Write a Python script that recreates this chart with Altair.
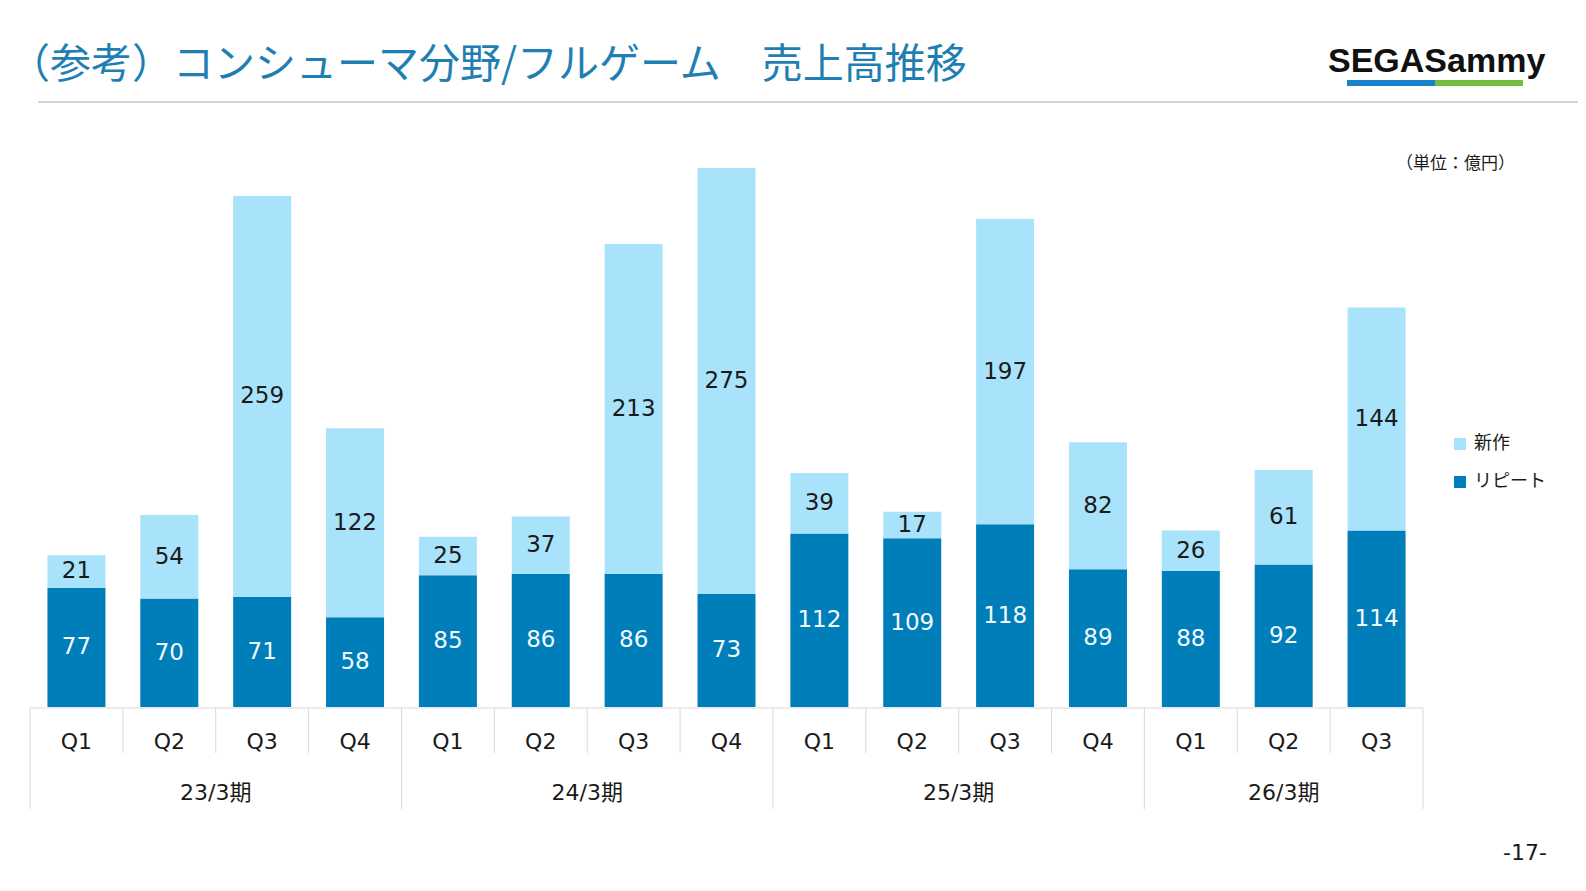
import altair as alt
import pandas as pd

# ---- data ----
quarters = ["Q1", "Q2", "Q3", "Q4", "Q1", "Q2", "Q3", "Q4",
            "Q1", "Q2", "Q3", "Q4", "Q1", "Q2", "Q3"]
years = ["23/3期"] * 4 + ["24/3期"] * 4 + ["25/3期"] * 4 + ["26/3期"] * 3
repeat_sales = [77, 70, 71, 58, 85, 86, 86, 73, 112, 109, 118, 89, 88, 92, 114]
new_sales = [21, 54, 259, 122, 25, 37, 213, 275, 39, 17, 197, 82, 26, 61, 144]
series_names = ["新作", "リピート"]

title_text = "（参考）コンシューマ分野/フルゲーム　売上高推移"
unit_text = "（単位：億円）"
page_text = "-17-"
logo_text = "SEGASammy"

LIGHT = "#A8E3FB"
DARK = "#007EBA"
TITLE_BLUE = "#1F7FB3"
GRID = "#D9D9D9"
NUMFONT = "DejaVu Sans"
JPFONT = "Noto Sans CJK JP"

df = pd.DataFrame({
    "idx": list(range(len(quarters))),
    "quarter": quarters,
    "year": years,
    "repeat": repeat_sales,
    "new": new_sales,
})

# category boundaries (separator lines of the two-level axis)
bounds = []
for i in range(len(quarters) + 1):
    is_long = i == 0 or i == len(quarters) or years[i] != years[i - 1]
    bounds.append({"pos": i - 0.5, "long": is_long})
bdf = pd.DataFrame(bounds)

xs = alt.Scale(domain=[-0.5, len(quarters) - 0.5], range=[22, 1415],
               nice=False, zero=False, padding=0)
ys = alt.Scale(domain=[0, 348], range=[699, 160], nice=False, zero=False)

bars = alt.Chart(df).transform_fold(
    ["repeat", "new"], as_=["key", "value"]
).transform_calculate(
    series="datum.key === 'repeat' ? 'リピート' : '新作'",
    ord="datum.key === 'repeat' ? 0 : 1",
).mark_bar(size=58).encode(
    x=alt.X("idx:Q", scale=xs, axis=None),
    y=alt.Y("value:Q", stack="zero", scale=ys, axis=None),
    color=alt.Color(
        "series:N",
        scale=alt.Scale(domain=series_names, range=[LIGHT, DARK]),
        legend=alt.Legend(
            title=None, orient="none", legendX=1443, legendY=427,
            symbolType="square", symbolSize=144, symbolStrokeWidth=0,
            labelFont=JPFONT, labelFontSize=18, labelColor="#1a1a1a",
            labelOffset=5, rowPadding=20, padding=0,
        ),
    ),
    order=alt.Order("ord:Q", sort="ascending"),
)

lab_repeat = alt.Chart(df).transform_calculate(
    ym="datum.repeat / 2"
).mark_text(font=NUMFONT, fontSize=23, color="#F2FAFE", baseline="middle").encode(
    x=alt.X("idx:Q", scale=xs, axis=None),
    y=alt.Y("ym:Q", scale=ys, axis=None),
    text="repeat:Q",
)

lab_new = alt.Chart(df).transform_calculate(
    ym="datum.repeat + datum.new / 2"
).mark_text(font=NUMFONT, fontSize=23, color="#1a1a1a", baseline="middle").encode(
    x=alt.X("idx:Q", scale=xs, axis=None),
    y=alt.Y("ym:Q", scale=ys, axis=None),
    text="new:Q",
)

top_line = alt.Chart(pd.DataFrame({"a": [-0.5], "b": [len(quarters) - 0.5]})).mark_rule(
    color=GRID, strokeWidth=1
).encode(
    x=alt.X("a:Q", scale=xs, axis=None), x2="b:Q", y=alt.value(700)
)

short_sep = alt.Chart(bdf).transform_filter("!datum.long").mark_rule(
    color=GRID, strokeWidth=1
).encode(
    x=alt.X("pos:Q", scale=xs, axis=None), y=alt.value(700), y2=alt.value(745)
)

long_sep = alt.Chart(bdf).transform_filter("datum.long").mark_rule(
    color=GRID, strokeWidth=1
).encode(
    x=alt.X("pos:Q", scale=xs, axis=None), y=alt.value(700), y2=alt.value(801)
)

q_labels = alt.Chart(df).mark_text(
    font=NUMFONT, fontSize=22, color="#1a1a1a", baseline="middle"
).encode(
    x=alt.X("idx:Q", scale=xs, axis=None), y=alt.value(734), text="quarter:N"
)

y_labels = alt.Chart(df).transform_aggregate(
    mx="mean(idx)", groupby=["year"]
).mark_text(
    font=NUMFONT + ", " + JPFONT, fontSize=22, color="#1a1a1a", baseline="middle"
).encode(
    x=alt.X("mx:Q", scale=xs, axis=None), y=alt.value(785), text="year:N"
)

one = pd.DataFrame({"t": [title_text]})
title = alt.Chart(one).mark_text(
    font=JPFONT, fontSize=41, color=TITLE_BLUE, align="left", baseline="middle"
).encode(x=alt.value(1), y=alt.value(58), text="t:N")

title_rule = alt.Chart(one).mark_rule(color="#C4C4C4", strokeWidth=1.5).encode(
    x=alt.value(30), x2=alt.value(1570), y=alt.value(94)
)

logo = alt.Chart(pd.DataFrame({"t": [logo_text]})).mark_text(
    font="Liberation Sans", fontSize=34, fontWeight="bold", color="#111111",
    align="left", baseline="alphabetic"
).encode(x=alt.value(1320), y=alt.value(64), text="t:N")

logo_blue = alt.Chart(one).mark_rect(color="#1782C9").encode(
    x=alt.value(1339), x2=alt.value(1427), y=alt.value(72), y2=alt.value(78)
)
logo_green = alt.Chart(one).mark_rect(color="#74BD43").encode(
    x=alt.value(1427), x2=alt.value(1515), y=alt.value(72), y2=alt.value(78)
)

unit = alt.Chart(pd.DataFrame({"t": [unit_text]})).mark_text(
    font=JPFONT, fontSize=17, color="#1a1a1a", align="left", baseline="middle"
).encode(x=alt.value(1388), y=alt.value(156), text="t:N")

page = alt.Chart(pd.DataFrame({"t": [page_text]})).mark_text(
    font=NUMFONT, fontSize=22, color="#1a1a1a", align="center", baseline="middle"
).encode(x=alt.value(1517), y=alt.value(845), text="t:N")

chart = alt.layer(
    top_line, short_sep, long_sep, bars, lab_repeat, lab_new, q_labels, y_labels,
    title, title_rule, logo, logo_blue, logo_green, unit, page,
).properties(
    width=1570, height=875,
    autosize=alt.AutoSizeParams(type="none"),
    padding=0,
    background="white",
).configure_view(stroke=None)

chart.save("out.html", embed_options={"renderer": "svg", "actions": False})
